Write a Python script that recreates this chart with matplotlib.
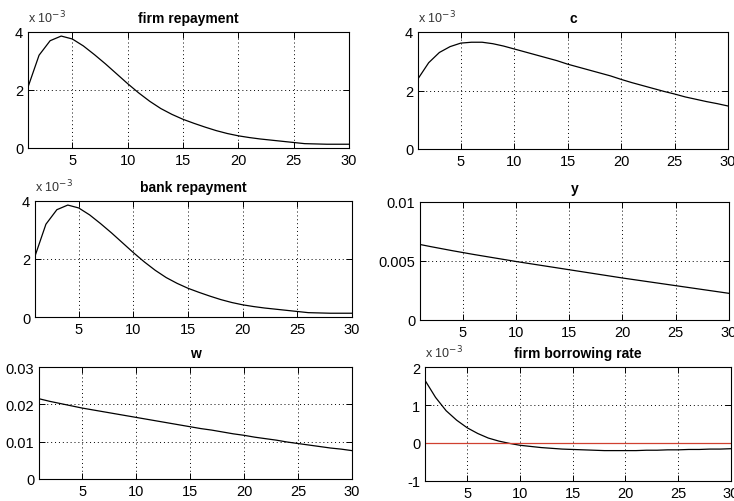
import numpy as np
import matplotlib
matplotlib.use("Agg")
import matplotlib.pyplot as plt
from matplotlib.ticker import FuncFormatter, FixedLocator

plt.rcParams['font.family'] = ['Liberation Sans', 'DejaVu Sans']

periods = np.arange(1, 31)

firm_repayment = [2.10e-3, 3.20e-3, 3.70e-3, 3.86e-3, 3.76e-3, 3.52e-3, 3.22e-3, 2.90e-3, 2.56e-3, 2.22e-3,
                  1.90e-3, 1.61e-3, 1.36e-3, 1.16e-3, 0.99e-3, 0.85e-3, 0.72e-3, 0.60e-3, 0.50e-3, 0.42e-3,
                  0.36e-3, 0.31e-3, 0.27e-3, 0.23e-3, 0.19e-3, 0.15e-3, 0.14e-3, 0.13e-3, 0.13e-3, 0.13e-3]
bank_repayment = [2.10e-3, 3.20e-3, 3.70e-3, 3.86e-3, 3.76e-3, 3.52e-3, 3.22e-3, 2.90e-3, 2.56e-3, 2.22e-3,
                  1.90e-3, 1.61e-3, 1.36e-3, 1.16e-3, 0.99e-3, 0.85e-3, 0.72e-3, 0.60e-3, 0.50e-3, 0.42e-3,
                  0.36e-3, 0.31e-3, 0.27e-3, 0.23e-3, 0.19e-3, 0.15e-3, 0.14e-3, 0.13e-3, 0.13e-3, 0.13e-3]
c_resp = [2.40e-3, 2.95e-3, 3.30e-3, 3.50e-3, 3.62e-3, 3.65e-3, 3.65e-3, 3.60e-3, 3.52e-3, 3.42e-3,
          3.32e-3, 3.22e-3, 3.12e-3, 3.02e-3, 2.90e-3, 2.80e-3, 2.70e-3, 2.60e-3, 2.50e-3, 2.38e-3,
          2.27e-3, 2.17e-3, 2.07e-3, 1.97e-3, 1.88e-3, 1.78e-3, 1.70e-3, 1.62e-3, 1.55e-3, 1.47e-3]
y_resp = [0.00640, 0.00622, 0.00605, 0.00588, 0.00572, 0.00556, 0.00541, 0.00526, 0.00511, 0.00496,
          0.00482, 0.00468, 0.00454, 0.00440, 0.00426, 0.00412, 0.00398, 0.00384, 0.00370, 0.00356,
          0.00343, 0.00330, 0.00317, 0.00304, 0.00291, 0.00278, 0.00265, 0.00252, 0.00239, 0.00226]
w_resp = [0.0215, 0.0208, 0.0202, 0.0196, 0.0190, 0.0185, 0.0180, 0.0175, 0.0170, 0.0165,
          0.0160, 0.0155, 0.0150, 0.0145, 0.0140, 0.0135, 0.0131, 0.0126, 0.0121, 0.0117,
          0.0112, 0.0108, 0.0104, 0.0099, 0.0095, 0.0091, 0.0087, 0.0083, 0.0080, 0.0076]
borrow_rate = [1.65e-3, 1.20e-3, 0.85e-3, 0.60e-3, 0.40e-3, 0.25e-3, 0.13e-3, 0.05e-3, -0.01e-3, -0.06e-3,
               -0.09e-3, -0.12e-3, -0.14e-3, -0.16e-3, -0.17e-3, -0.18e-3, -0.19e-3, -0.20e-3, -0.20e-3, -0.20e-3,
               -0.20e-3, -0.19e-3, -0.19e-3, -0.18e-3, -0.18e-3, -0.17e-3, -0.17e-3, -0.16e-3, -0.16e-3, -0.15e-3]

xticks = [5, 10, 15, 20, 25, 30]

W, H = 734, 502
fig = plt.figure(figsize=(W / 100, H / 100), dpi=100)
fig.patch.set_facecolor('white')


def make_axes(l, r, t, b):
    return fig.add_axes([l / W, (H - b) / H, (r - l) / W, (b - t) / H])


def style(ax, title, yticks, ylim, scaled=False, ylabels=None):
    ax.set_xlim(1, 30)
    ax.set_ylim(*ylim)
    ax.set_xticks(xticks)
    ax.yaxis.set_major_locator(FixedLocator(yticks))
    if scaled:
        ax.yaxis.set_major_formatter(FuncFormatter(lambda v, p: '%g' % round(v * 1e3, 6)))
        ax.text(0.0, 1.06, r'x 10$^{-3}$', transform=ax.transAxes, fontsize=9, ha='left', va='bottom',
                color='#333333')
    elif ylabels is not None:
        ax.set_yticklabels(ylabels)
    ax.grid(True, linestyle=(0, (1, 3)), color='black', linewidth=0.7)
    ax.tick_params(direction='in', top=True, right=True, length=4, labelsize=10.5, width=0.7)
    for s in ax.spines.values():
        s.set_linewidth(0.8)
    ax.set_title(title, fontsize=10, fontweight='bold', pad=7)


ax1 = make_axes(28, 349, 33, 149)
ax1.plot(periods, firm_repayment, color='black', linewidth=0.9)
style(ax1, 'firm repayment', [0, 2e-3, 4e-3], (0, 4e-3), scaled=True)

ax2 = make_axes(418, 728, 33, 150)
ax2.plot(periods, c_resp, color='black', linewidth=0.9)
style(ax2, 'c', [0, 2e-3, 4e-3], (0, 4e-3), scaled=True)

ax3 = make_axes(35, 352, 202, 318)
ax3.plot(periods, bank_repayment, color='black', linewidth=0.9)
style(ax3, 'bank repayment', [0, 2e-3, 4e-3], (0, 4e-3), scaled=True)

ax4 = make_axes(420, 729, 203, 321)
ax4.plot(periods, y_resp, color='black', linewidth=0.9)
style(ax4, 'y', [0, 0.005, 0.01], (0, 0.01), ylabels=['0', '0.005', '0.01'])

ax5 = make_axes(39, 352, 368, 480)
ax5.plot(periods, w_resp, color='black', linewidth=0.9)
style(ax5, 'w', [0, 0.01, 0.02, 0.03], (0, 0.03), ylabels=['0', '0.01', '0.02', '0.03'])

ax6 = make_axes(425, 731, 368, 482)
ax6.plot(periods, borrow_rate, color='black', linewidth=0.9)
ax6.axhline(0, color='#d04030', linewidth=0.9)
style(ax6, 'firm borrowing rate', [-1e-3, 0, 1e-3, 2e-3], (-1e-3, 2e-3), scaled=True)

fig.savefig('out.png', dpi=100, facecolor='white')
